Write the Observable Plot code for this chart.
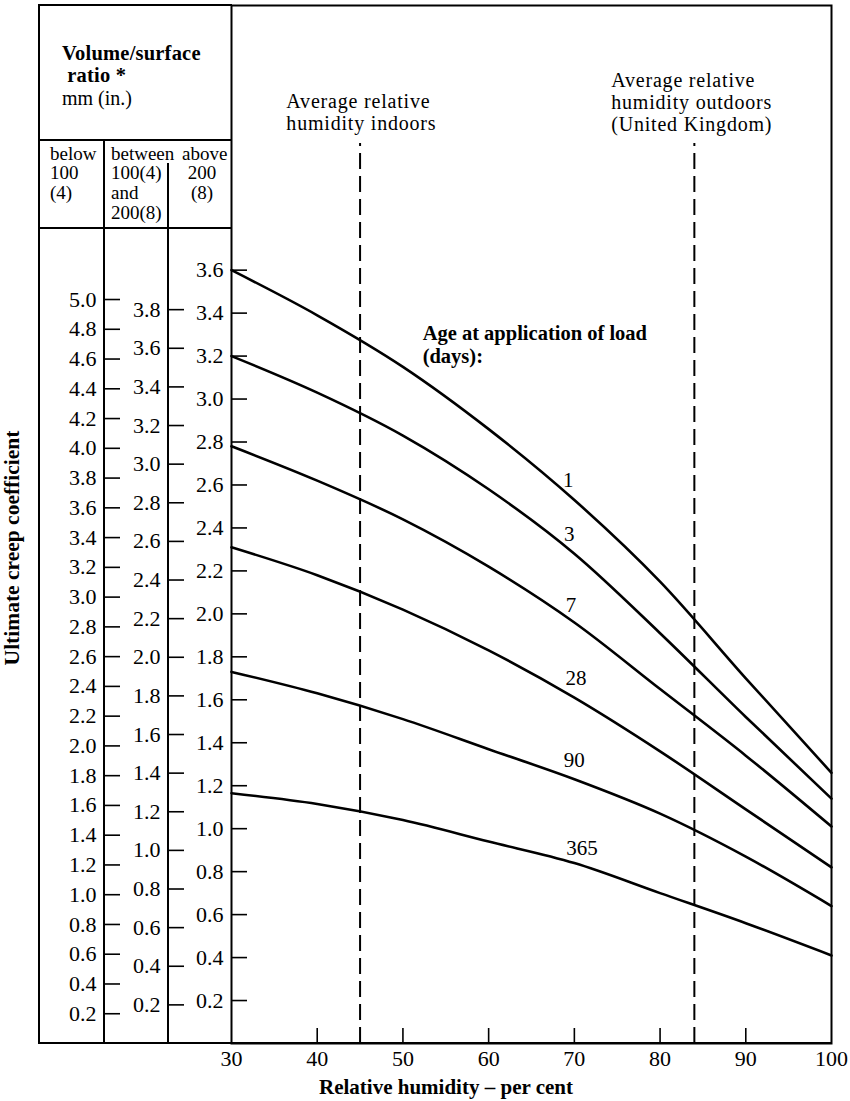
<!DOCTYPE html>
<html>
<head>
<meta charset="utf-8">
<script src="https://cdn.jsdelivr.net/npm/d3@7"></script>
<script src="https://cdn.jsdelivr.net/npm/@observablehq/plot@0.6"></script>
<style>
  body { margin: 0; background: white; }
  #chart { position: relative; width: 850px; height: 1101px; font-family: "Liberation Serif", "Times New Roman", serif; color: black; }
  #chart svg { position: absolute; left: 0; top: 0; }
  .ln { position: absolute; background: black; }
  .tx { position: absolute; white-space: nowrap; line-height: 1; }
  g[aria-description="notes"] text { letter-spacing: 0.8px; }
</style>
</head>
<body>
<div id="chart"></div>
<script>
// ---- Data ----
const humidity = [30, 40, 50, 60, 70, 80, 90, 100];          // relative humidity, per cent
const ageDays = [1, 3, 7, 28, 90, 365];                        // age at application of load
const creep1   = [3.60, 3.39, 3.15, 2.86, 2.53, 2.15, 1.70, 1.26];
const creep3   = [3.20, 3.03, 2.83, 2.58, 2.28, 1.91, 1.52, 1.14];
const creep7   = [2.78, 2.62, 2.44, 2.22, 1.96, 1.65, 1.34, 1.01];
const creep28  = [2.31, 2.18, 2.02, 1.83, 1.61, 1.36, 1.09, 0.82];
const creep90  = [1.73, 1.63, 1.51, 1.37, 1.23, 1.07, 0.87, 0.64];
const creep365 = [1.165, 1.115, 1.04, 0.94, 0.84, 0.70, 0.56, 0.41];
const creepSeries = [creep1, creep3, creep7, creep28, creep90, creep365];

// curve label positions (humidity, coefficient on the main scale)
const labelHumidity = [69.3, 69.4, 69.6, 70.2, 70.0, 70.9];
const labelCoef     = [2.62, 2.37, 2.04, 1.70, 1.32, 0.91];

// reference humidities (dashed lines)
const refHumidity = [45, 84];
const refTop = 4.19;

// tick labels
const xTicks = [30, 40, 50, 60, 70, 80, 90, 100];
const xInnerTicks = [40, 50, 60, 70, 80, 90];
const ticksBelow100 = [0.2,0.4,0.6,0.8,1.0,1.2,1.4,1.6,1.8,2.0,2.2,2.4,2.6,2.8,3.0,3.2,3.4,3.6,3.8,4.0,4.2,4.4,4.6,4.8,5.0];
const ticksBetween  = [0.2,0.4,0.6,0.8,1.0,1.2,1.4,1.6,1.8,2.0,2.2,2.4,2.6,2.8,3.0,3.2,3.4,3.6,3.8];
const ticksAbove200 = [0.2,0.4,0.6,0.8,1.0,1.2,1.4,1.6,1.8,2.0,2.2,2.4,2.6,2.8,3.0,3.2,3.4,3.6];

// annotations (text, humidity at left edge, coefficient at block centre on main scale)
const noteText = ["Average relative\nhumidity indoors", "Average relative\nhumidity outdoors\n(United Kingdom)"];
const noteHumidity = [36.4, 74.3];
const noteCoef = [4.336, 4.384];
const legendTitle = "Age at application of load\n(days):";
const legendHumidity = 52.3;
const legendCoef = 3.255;

// ---- build tables ----
const rows = [];
ageDays.forEach((age, i) => humidity.forEach((h, j) => rows.push({age, h, v: creepSeries[i][j]})));
const curveLabels = ageDays.map((age, i) => ({text: String(age), h: labelHumidity[i], v: labelCoef[i]}));
const notes = noteText.map((t, i) => ({t, h: noteHumidity[i], v: noteCoef[i]}));

// ---- layout ----
const W = 850, H = 1101, TOP = 5, BOTTOM = 58;
const font = "'Liberation Serif', 'Times New Roman', serif";
const baseStyle = {fontFamily: font, fontSize: "22px", background: "transparent", overflow: "visible", color: "black"};
const chart = document.getElementById("chart");

const main = Plot.plot({
  width: W, height: H,
  marginLeft: 231, marginRight: 19, marginTop: TOP, marginBottom: BOTTOM,
  x: {domain: [30, 100]},
  y: {domain: [0, 4.832], axis: null},
  style: baseStyle,
  marks: [
    Plot.frame({stroke: "black", strokeWidth: 2}),
    Plot.ruleX(refHumidity, {x: d => d, y1: 0, y2: refTop, stroke: "black", strokeWidth: 2, strokeDasharray: "16,7"}),
    Plot.line(rows, {x: "h", y: "v", z: "age", curve: "monotone-x", stroke: "black", strokeWidth: 2.6}),
    Plot.text(curveLabels, {x: "h", y: "v", text: "text", fontSize: 21, fill: "black"}),
    Plot.text(notes, {x: "h", y: "v", text: "t", textAnchor: "start", lineAnchor: "middle", lineHeight: 1.11, fontSize: 20, fill: "black", ariaDescription: "notes"}),
    Plot.text([legendTitle], {x: legendHumidity, y: legendCoef, text: d => d, textAnchor: "start", lineAnchor: "middle", lineHeight: 1.12, fontSize: 20.5, fontWeight: "bold", fill: "black"}),
    Plot.axisX(xTicks, {anchor: "bottom", tickSize: 0, tickPadding: 7, label: null, tickFormat: d => String(d)})
  ]
});
chart.appendChild(main);

// inward x ticks
const xTickPlot = Plot.plot({
  width: W, height: H,
  marginLeft: 231, marginRight: 19, marginTop: H - BOTTOM - 15, marginBottom: BOTTOM,
  x: {domain: [30, 100], axis: null},
  style: baseStyle,
  marks: [Plot.ruleX(xInnerTicks, {x: d => d, stroke: "black", strokeWidth: 1.6})]
});
chart.appendChild(xTickPlot);

// three y scales (one per volume/surface ratio column)
function yColumn(left, top, ticks) {
  return Plot.plot({
    width: W, height: H,
    marginLeft: left, marginRight: W - left - 16, marginTop: TOP, marginBottom: BOTTOM,
    y: {domain: [0, top]},
    style: baseStyle,
    marks: [
      Plot.ruleY(ticks, {y: d => d, stroke: "black", strokeWidth: 1.6}),
      Plot.axisY(ticks, {anchor: "left", tickSize: 0, tickPadding: 8, label: null, tickFormat: d3.format(".1f")})
    ]
  });
}
chart.appendChild(yColumn(104, 6.976, ticksBelow100));
chart.appendChild(yColumn(168, 5.375, ticksBetween));
chart.appendChild(yColumn(231, 4.832, ticksAbove200));

// ---- table lines of the header / columns ----
function hline(x1, x2, y) { const d = document.createElement("div"); d.className = "ln"; Object.assign(d.style, {left: x1 + "px", top: (y - 1) + "px", width: (x2 - x1) + "px", height: "2px"}); chart.appendChild(d); }
function vline(x, y1, y2) { const d = document.createElement("div"); d.className = "ln"; Object.assign(d.style, {left: (x - 1) + "px", top: y1 + "px", width: "2px", height: (y2 - y1) + "px"}); chart.appendChild(d); }
hline(39, 232, 5); hline(39, 232, 140); hline(39, 232, 228); hline(39, 832, 1043);
vline(39, 4, 1044); vline(104, 140, 1043); vline(168, 163, 1043);

// ---- header / titles (HTML text) ----
function txt(html, left, top, size, bold, lh, extra) {
  const d = document.createElement("div"); d.className = "tx"; d.innerHTML = html;
  Object.assign(d.style, {left: left + "px", top: top + "px", fontSize: size + "px", lineHeight: lh + "px", fontWeight: bold ? "bold" : "normal"}, extra || {});
  chart.appendChild(d); return d;
}
txt("Volume/surface<br>&nbsp;ratio *", 62, 41.5, 20.5, true, 22.8, {letterSpacing: "0.2px"});
txt("mm (in.)", 62, 88, 20, false, 20);
txt("below<br>100<br>(4)", 50, 143.5, 19, false, 19.7);
txt("between<br>100(4)<br>and<br>200(8)", 111, 143.5, 19, false, 19.7);
txt("above", 182, 143.5, 19, false, 19.7);
txt("200<br>(8)", 202, 163.2, 19, false, 19.7, {transform: "translateX(-50%)", textAlign: "center"});
txt("Relative humidity \u2013 per cent", 446, 1077, 21, true, 21, {transform: "translateX(-50%)"});
txt("Ultimate creep coefficient", 13, 548, 21.5, true, 21.5, {transform: "translate(-50%, -50%) rotate(-90deg)"});
</script>
</body>
</html>
